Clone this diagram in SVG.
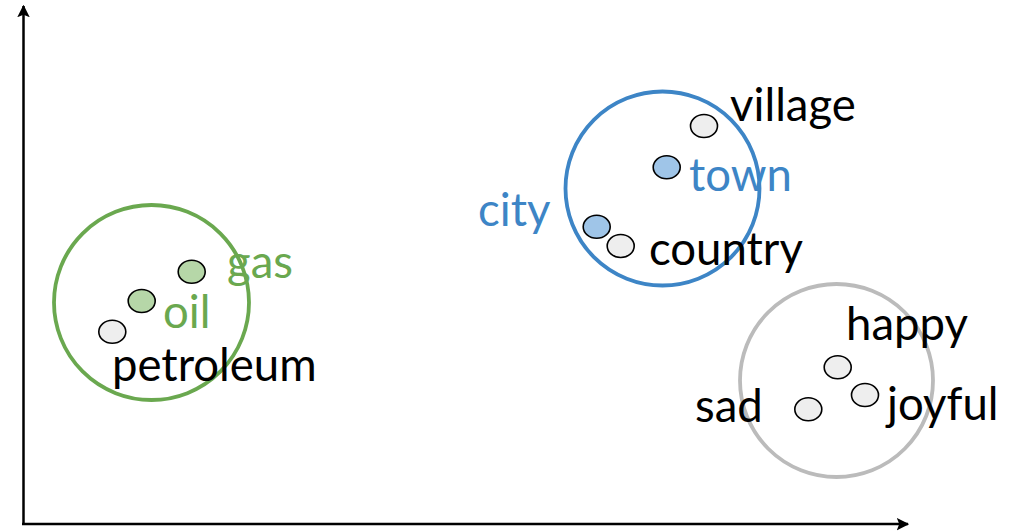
<svg xmlns="http://www.w3.org/2000/svg" width="1020" height="531" viewBox="0 0 1020 531">
<defs>
<style>
text{font-family:Lato,"Liberation Sans",sans-serif;font-size:45.5px;fill:#000}
.g{fill:#6aa84f}
.b{fill:#3d85c6}
.dot{stroke:#000;stroke-width:1.6}
.grey{fill:#eeeeee}
.lg{fill:#b6d7a8}
.lb{fill:#9fc5e8}
.ring{fill:none;stroke-width:3.8}
</style>
<marker id="ah" viewBox="0 0 10 10" refX="9" refY="5" markerWidth="5" markerHeight="5.5" orient="auto" markerUnits="strokeWidth">
<path d="M0,0 L10,5 L0,10 L2,5 Z" fill="#000"/>
</marker>
</defs>
<rect width="1020" height="531" fill="#fff"/>
<g id="connectors">
<line x1="23.5" y1="524" x2="23.5" y2="6" stroke="#000" stroke-width="2.5" marker-end="url(#ah)"/>
<line x1="22" y1="524" x2="908" y2="524" stroke="#000" stroke-width="2.5" marker-end="url(#ah)"/>
</g>
<g id="cluster-fuel">
<circle class="ring" cx="151.5" cy="302.5" r="97.5" stroke="#6aa84f"/>
</g>
<g id="cluster-place">
<circle class="ring" cx="662.5" cy="188.5" r="97" stroke="#3d85c6"/>
</g>
<g id="cluster-emotion">
<circle class="ring" cx="836.5" cy="380.5" r="96.5" stroke="#bbbbbb"/>
</g>
<g id="node-gas"><ellipse class="dot lg" cx="191.7" cy="271.7" rx="13.5" ry="11.5"/><text class="g" x="227" y="278">gas</text></g>
<g id="node-oil"><ellipse class="dot lg" cx="141.7" cy="301" rx="13.5" ry="11.5"/><text class="g" x="163" y="328">oil</text></g>
<g id="node-petroleum"><ellipse class="dot grey" cx="112.3" cy="331.7" rx="13.5" ry="11.5"/><text x="112" y="381">petroleum</text></g>
<g id="node-village"><ellipse class="dot grey" cx="704" cy="126" rx="13.5" ry="11.5"/><text x="730" y="121">village</text></g>
<g id="node-town"><ellipse class="dot lb" cx="666.7" cy="167.3" rx="13.5" ry="11.5"/><text class="b" x="689" y="191">town</text></g>
<g id="node-city"><ellipse class="dot lb" cx="596.7" cy="226.7" rx="13.5" ry="11.5"/><text class="b" x="478" y="226">city</text></g>
<g id="node-country"><ellipse class="dot grey" cx="620.7" cy="246" rx="13.5" ry="11.5"/><text x="649" y="265">country</text></g>
<g id="node-happy"><ellipse class="dot grey" cx="837.7" cy="367.3" rx="13.5" ry="11.5"/><text x="846" y="340">happy</text></g>
<g id="node-joyful"><ellipse class="dot grey" cx="865" cy="395" rx="13.5" ry="11.5"/><text x="887" y="420">joyful</text></g>
<g id="node-sad"><ellipse class="dot grey" cx="808.3" cy="409.3" rx="13.5" ry="11.5"/><text x="695" y="421.5">sad</text></g>
</svg>
